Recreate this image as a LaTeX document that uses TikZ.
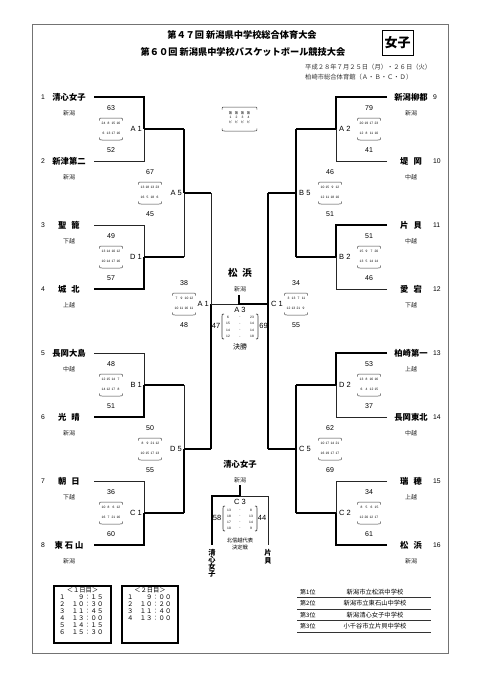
\documentclass[tikz,border=0pt]{standalone}
\usepackage{fontspec}
\setmainfont{Liberation Sans}
\newfontfamily\jp{Noto Sans CJK JP}
\newcommand\gp{\hspace{5pt}}
\newcommand\Four[4]{\makebox[5pt]{#1}\makebox[5pt]{#2}\makebox[5pt]{#3}\makebox[5pt]{#4}}
\newcommand\ScoreBox[7]{%
  \node[score] (#1t) at (#2,#3-21) {#4};
  \node[per] (#1r) at (#2,#3-5.5) {#5};
  \node[per] (#1s) at (#2,#3+4.5) {#6};
  \node[score] (#1b) at (#2,#3+21) {#7};
  \draw[brace] (#2-11.5,#3-8.5) .. controls (#2-11.5,#3-11) .. (#2-9,#3-11) -- (#2+9,#3-11) .. controls (#2+11.5,#3-11) .. (#2+11.5,#3-8.5);
  \draw[brace] (#2-11.5,#3+8.5) .. controls (#2-11.5,#3+11) .. (#2-9,#3+11) -- (#2+9,#3+11) .. controls (#2+11.5,#3+11) .. (#2+11.5,#3+8.5);
}
\begin{document}
\begin{tikzpicture}[x=1pt,y=-1pt,
  lnthin/.style={line width=0.9pt, black!85},
  lnwin/.style={line width=2pt, black},
  team/.style={font=\jp\bfseries\fontsize{8.3}{9}\selectfont, inner sep=0pt},
  region/.style={font=\jp\fontsize{6}{7}\selectfont, inner sep=0pt, text=black!85},
  seed/.style={font=\fontsize{6.8}{8}\selectfont, inner sep=0pt},
  score/.style={font=\fontsize{7}{8}\selectfont, inner sep=0pt},
  per/.style={font=\fontsize{3.3}{4}\selectfont, inner sep=0pt},
  mlabel/.style={font=\fontsize{7.5}{8}\selectfont, inner sep=0pt},
  brace/.style={line width=0.5pt, black!75},
  small/.style={font=\jp\fontsize{6.3}{7}\selectfont, inner sep=0pt},
  vchar/.style={font=\jp\bfseries\fontsize{7.2}{8}\selectfont, inner sep=0pt},
]
\useasboundingbox (0,0) rectangle (481,680);
\fill[white] (0,0) rectangle (481,680);
\draw[black!55, line width=1pt] (32,24) rectangle (448,653);

% title
\node[font=\jp\bfseries\fontsize{9.2}{10}\selectfont, inner sep=0pt] (title1) at (242,35) {第４７回 新潟県中学校総合体育大会};
\node[font=\jp\bfseries\fontsize{9.2}{10}\selectfont, inner sep=0pt] (title2) at (243,52) {第６０回 新潟県中学校バスケットボール競技大会};
\node[draw, line width=0.8pt, minimum width=31pt, minimum height=25pt, inner sep=0pt, font=\jp\bfseries\fontsize{13}{14}\selectfont] (gbox) at (397.5,42.5) {女子};
\node[small, anchor=west, text=black!80] (date) at (305,67) {平成２８年７月２５日（月）・２６日（火）};
\node[small, anchor=west, text=black!80] (venue) at (305,77) {柏崎市総合体育館（Ａ・Ｂ・Ｃ・Ｄ）};

% legend box
\draw[brace] (222,109.5) .. controls (222,107) .. (224.5,107) -- (254.5,107) .. controls (257,107) .. (257,109.5);
\draw[brace] (222,128.5) .. controls (222,131) .. (224.5,131) -- (254.5,131) .. controls (257,131) .. (257,128.5);
\node[font=\jp\fontsize{3.3}{4}\selectfont, inner sep=0pt] (lg1) at (239.5,113) {\makebox[6pt]{第}\makebox[6pt]{第}\makebox[6pt]{第}\makebox[6pt]{第}};
\node[per] (lg2) at (239.5,117.5) {\makebox[6pt]{1}\makebox[6pt]{2}\makebox[6pt]{3}\makebox[6pt]{4}};
\node[font=\jp\fontsize{3.3}{4}\selectfont, inner sep=0pt] (lg3) at (239.5,122) {\makebox[6pt]{ピ}\makebox[6pt]{ピ}\makebox[6pt]{ピ}\makebox[6pt]{ピ}};

% left teams
\foreach \i/\nm/\rg in {1/清心女子/新潟,2/新津第二/新潟,3/聖\gp 籠/下越,4/城\gp 北/上越,5/長岡大島/中越,6/光\gp 晴/新潟,7/朝\gp 日/下越,8/東 石 山/新潟}{
  \pgfmathsetmacro\yy{97+64*(\i-1)}
  \node[seed] (n\i) at (43,\yy) {\i};
  \node[team] (t\i) at (69,\yy) {\nm};
  \node[region] (g\i) at (69,\yy+16) {\rg};
  \coordinate (ls\i) at (94,\yy);
  \coordinate (le\i) at (144,\yy);
}
% right teams
\foreach \i/\nm/\rg in {9/新潟柳都/新潟,10/堤\gp 岡/中越,11/片\gp 貝/中越,12/愛\gp 宕/下越,13/柏崎第一/上越,14/長岡東北/中越,15/瑞\gp 穂/上越,16/松\gp 浜/新潟}{
  \pgfmathsetmacro\yy{97+64*(\i-9)}
  \node[seed, anchor=west] (n\i) at (433,\yy) {\i};
  \node[team] (t\i) at (411,\yy) {\nm};
  \node[region] (g\i) at (411,\yy+16) {\rg};
  \coordinate (rs\i) at (387,\yy);
  \coordinate (re\i) at (336,\yy);
}
% junctions
\foreach \k/\jy in {1/129,2/257,3/385,4/513}{
  \coordinate (lj\k) at (144,\jy); \coordinate (lo\k) at (184,\jy);
  \coordinate (rj\k) at (336,\jy); \coordinate (ro\k) at (296,\jy);
}
\coordinate (lk1) at (184,193); \coordinate (lk2) at (184,449);
\coordinate (lq1) at (211,193); \coordinate (lq2) at (211,449);
\coordinate (rk1) at (296,193); \coordinate (rk2) at (296,449);
\coordinate (rq1) at (268,193); \coordinate (rq2) at (268,449);
\coordinate (lsem) at (211,304); \coordinate (rsem) at (268,304);
\coordinate (fin) at (239,304); \coordinate (fintop) at (239,295);

% left round 1
\draw[lnwin] (ls1) -- (le1) -- (lj1);  \draw[lnthin] (ls2) -- (le2) -- (lj1); \draw[lnwin] (lj1) -- (lo1);
\draw[lnthin] (ls3) -- (le3) -- (lj2); \draw[lnwin] (ls4) -- (le4) -- (lj2);  \draw[lnwin] (lj2) -- (lo2);
\draw[lnthin] (ls5) -- (le5) -- (lj3); \draw[lnwin] (ls6) -- (le6) -- (lj3);  \draw[lnwin] (lj3) -- (lo3);
\draw[lnthin] (ls7) -- (le7) -- (lj4); \draw[lnwin] (ls8) -- (le8) -- (lj4);  \draw[lnwin] (lj4) -- (lo4);
% left round 2
\draw[lnwin] (lo1) -- (lk1); \draw[lnthin] (lo2) -- (lk1); \draw[lnwin] (lk1) -- (lq1);
\draw[lnthin] (lo3) -- (lk2); \draw[lnwin] (lo4) -- (lk2); \draw[lnwin] (lk2) -- (lq2);
% left semi
\draw[lnthin] (lq1) -- (lsem); \draw[lnwin] (lq2) -- (lsem); \draw[lnthin] (lsem) -- (fin);
% right round 1
\draw[lnwin] (rs9) -- (re9) -- (rj1);   \draw[lnthin] (rs10) -- (re10) -- (rj1); \draw[lnwin] (rj1) -- (ro1);
\draw[lnwin] (rs11) -- (re11) -- (rj2); \draw[lnthin] (rs12) -- (re12) -- (rj2); \draw[lnwin] (rj2) -- (ro2);
\draw[lnwin] (rs13) -- (re13) -- (rj3); \draw[lnthin] (rs14) -- (re14) -- (rj3); \draw[lnwin] (rj3) -- (ro3);
\draw[lnthin] (rs15) -- (re15) -- (rj4); \draw[lnwin] (rs16) -- (re16) -- (rj4); \draw[lnwin] (rj4) -- (ro4);
% right round 2
\draw[lnwin] (ro1) -- (rk1); \draw[lnwin] (ro2) -- (rk1); \draw[lnwin] (rk1) -- (rq1);
\draw[lnwin] (ro3) -- (rk2); \draw[lnwin] (ro4) -- (rk2); \draw[lnwin] (rk2) -- (rq2);
% right semi + final
\draw[lnwin] (rq1) -- (rsem); \draw[lnwin] (rq2) -- (rsem); \draw[lnwin] (rsem) -- (fin) -- (fintop);

% match labels
\foreach \nm/\lb/\jy in {la1/A 1/129,ld1/D 1/257,lb1/B 1/385,lc1/C 1/513}{\node[mlabel, anchor=east] (\nm) at (142,\jy) {\lb};}
\node[mlabel, anchor=east] (la5) at (182,193) {A 5};
\node[mlabel, anchor=east] (ld5) at (182,449) {D 5};
\node[mlabel, anchor=east] (lsa) at (209,304) {A 1};
\foreach \nm/\lb/\jy in {ra2/A 2/129,rb2/B 2/257,rd2/D 2/385,rc2/C 2/513}{\node[mlabel, anchor=west] (\nm) at (339,\jy) {\lb};}
\node[mlabel, anchor=west] (rb5) at (299,193) {B 5};
\node[mlabel, anchor=west] (rc5) at (299,449) {C 5};
\node[mlabel, anchor=west] (rsc) at (271,304) {C 1};

% score boxes
\ScoreBox{sA1}{111}{129}{63}{\Four{24}{8}{15}{16}}{\Four{6}{13}{17}{16}}{52}
\ScoreBox{sD1}{111}{257}{49}{\Four{13}{14}{10}{12}}{\Four{10}{14}{17}{16}}{57}
\ScoreBox{sB1}{111}{385}{48}{\Four{12}{15}{14}{7}}{\Four{14}{12}{17}{8}}{51}
\ScoreBox{sC1}{111}{513}{36}{\Four{10}{8}{6}{12}}{\Four{16}{7}{21}{16}}{60}
\ScoreBox{sA5}{150}{193}{67}{\Four{13}{18}{13}{23}}{\Four{16}{5}{18}{6}}{45}
\ScoreBox{sD5}{150}{449}{50}{\Four{8}{9}{21}{12}}{\Four{10}{15}{17}{13}}{55}
\ScoreBox{sSA}{184}{304}{38}{\Four{7}{9}{10}{12}}{\Four{10}{11}{16}{11}}{48}
\ScoreBox{sA2}{369}{129}{79}{\Four{20}{19}{17}{23}}{\Four{12}{8}{11}{10}}{41}
\ScoreBox{sB2}{369}{257}{51}{\Four{15}{9}{7}{20}}{\Four{13}{5}{14}{14}}{46}
\ScoreBox{sD2}{369}{385}{53}{\Four{13}{8}{16}{16}}{\Four{6}{4}{12}{15}}{37}
\ScoreBox{sC2}{369}{513}{34}{\Four{8}{5}{6}{15}}{\Four{12}{20}{12}{17}}{61}
\ScoreBox{sB5}{330}{193}{46}{\Four{10}{15}{9}{12}}{\Four{12}{11}{18}{10}}{51}
\ScoreBox{sC5}{330}{449}{62}{\Four{10}{17}{14}{21}}{\Four{16}{19}{17}{17}}{69}
\ScoreBox{sSC}{296}{304}{34}{\Four{3}{13}{7}{11}}{\Four{12}{13}{21}{9}}{55}

% final
\node[team, font=\jp\bfseries\fontsize{9.5}{10}\selectfont] (champ) at (240,273) {松\gp 浜};
\node[region] (champg) at (240,289) {新潟};
\node[mlabel] (a3) at (240,309.5) {A 3};
\node[score, font=\fontsize{7.5}{8}\selectfont] (f47) at (216,326) {47};
\node[score, font=\fontsize{7.5}{8}\selectfont] (f69) at (263.5,326) {69};
\draw[brace, line width=0.7pt] (224,314) .. controls (222,314) .. (222,317) -- (222,336) .. controls (222,339) .. (224,339);
\draw[brace, line width=0.7pt] (256,314) .. controls (258,314) .. (258,317) -- (258,336) .. controls (258,339) .. (256,339);
\foreach \k/\a/\b/\ry in {1/6/23/317,2/15/14/323.5,3/14/14/330,4/12/18/336.5}{
  \node[per] (fa\k) at (228,\ry) {\a};
  \node[per] (fm\k) at (240,\ry) {-};
  \node[per] (fb\k) at (252,\ry) {\b};
}
\node[font=\jp\fontsize{7}{8}\selectfont, inner sep=0pt] (kessho) at (240,347) {決勝};

% third place decider
\node[team] (c3w) at (240,464) {清心女子};
\node[region] (c3g) at (240,480) {新潟};
\coordinate (c3top) at (240,485); \coordinate (c3mid) at (240,496);
\coordinate (c3l) at (212,496); \coordinate (c3r) at (268,496);
\coordinate (c3lb) at (212,545); \coordinate (c3rb) at (268,545);
\draw[lnwin] (c3top) -- (c3mid) -- (c3l) -- (c3lb);
\draw[lnthin] (c3mid) -- (c3r) -- (c3rb);
\node[mlabel] (c3) at (240,502) {C 3};
\node[score, font=\fontsize{7.5}{8}\selectfont] (c58) at (217,518) {58};
\node[score, font=\fontsize{7.5}{8}\selectfont] (c44) at (262,518) {44};
\draw[brace, line width=0.7pt] (225,506) .. controls (223,506) .. (223,509) -- (223,528) .. controls (223,531) .. (225,531);
\draw[brace, line width=0.7pt] (255,506) .. controls (257,506) .. (257,509) -- (257,528) .. controls (257,531) .. (255,531);
\foreach \k/\a/\b/\ry in {1/13/8/510,2/18/13/516,3/17/14/522,4/10/9/528}{
  \node[per] (ca\k) at (229,\ry) {\a};
  \node[per] (cm\k) at (240,\ry) {-};
  \node[per] (cb\k) at (251,\ry) {\b};
}
\node[font=\jp\fontsize{5.3}{6}\selectfont, inner sep=0pt] (hsk1) at (240,540.5) {北信越代表};
\node[font=\jp\fontsize{5.3}{6}\selectfont, inner sep=0pt] (hsk2) at (240,547) {決定戦};
\foreach \k/\ch/\vy in {1/清/553,2/心/560,3/女/567,4/子/574}{\node[vchar] (vs\k) at (212,\vy) {\ch};}
\foreach \k/\ch/\vy in {1/片/553,2/貝/561}{\node[vchar] (vk\k) at (268,\vy) {\ch};}

% schedule boxes
\draw[line width=1.1pt] (54,586) rectangle (111,643);
\draw[line width=1.1pt] (122,586) rectangle (178,643);
\node[small] (d1h) at (82.5,590.5) {＜１日目＞};
\node[small] (d2h) at (150,590.5) {＜２日目＞};
\foreach \k/\tx/\ry in {1/１　　９：１５/597,2/２　１０：３０/604,3/３　１１：４５/611,4/４　１３：００/618,5/５　１４：１５/625,6/６　１５：３０/632}{
  \node[small, anchor=west] (d1r\k) at (59,\ry) {\tx};}
\foreach \k/\tx/\ry in {1/１　　９：００/597,2/２　１０：２０/604,3/３　１１：４０/611,4/４　１３：００/618}{
  \node[small, anchor=west] (d2r\k) at (127,\ry) {\tx};}

% results
\foreach \k/\pl/\sc/\ry/\ly in {1/第1位/新潟市立松浜中学校/592/597.5,2/第2位/新潟市立東石山中学校/603.5/609,3/第3位/新潟清心女子中学校/615/620.5,4/第3位/小千谷市立片貝中学校/626.5/632}{
  \node[small, anchor=west, font=\jp\fontsize{6}{7}\selectfont] (rp\k) at (300,\ry) {\pl};
  \node[small] (rn\k) at (375,\ry) {\sc};
  \coordinate (rl\k) at (297,\ly); \coordinate (rr\k) at (431,\ly);
  \draw[line width=0.7pt, black!80] (rl\k) -- (rr\k);
}
\end{tikzpicture}
\end{document}
